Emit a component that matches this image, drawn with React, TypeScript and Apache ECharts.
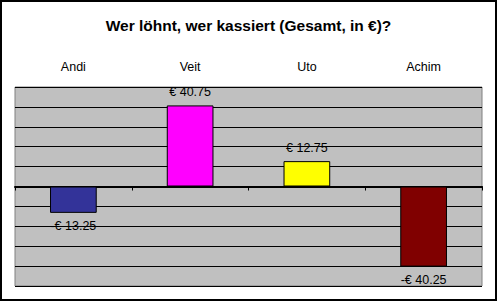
import React, { useEffect, useRef } from "react";
import * as echarts from "echarts";

const titleText = "Wer löhnt, wer kassiert (Gesamt, in €)?";
const categories = ["Andi", "Veit", "Uto", "Achim"];
const values = [-13.25, 40.75, 12.75, -40.25];
const barColors = ["#333399", "#FF00FF", "#FFFF00", "#800000"];

const fmt = (v: number) => (v < 0 ? "-€ " + Math.abs(v).toFixed(2) : "€ " + v.toFixed(2));

export default function App() {
  const ref = useRef<HTMLDivElement>(null);
  useEffect(() => {
    document.body.style.margin = "0";
    const chart = echarts.init(ref.current!, null, { renderer: "svg" });
    const font = "Arial, 'Liberation Sans', sans-serif";
    chart.setOption({
      animation: false,
      backgroundColor: "#ffffff",
      textStyle: { fontFamily: font },
      title: {
        text: titleText,
        left: "center",
        top: 12,
        textStyle: { fontSize: 15.5, fontWeight: "bold", color: "#000", fontFamily: font },
      },
      grid: {
        left: 15,
        top: 87,
        width: 467,
        height: 199,
        show: true,
        backgroundColor: "#c0c0c0",
        borderColor: "#808080",
        borderWidth: 1,
      },
      xAxis: [
        {
          type: "category",
          data: categories,
          position: "bottom",
          axisLine: { onZero: true, lineStyle: { color: "#000", width: 2 } },
          axisTick: { show: true, length: 4, lineStyle: { color: "#000", width: 1 } },
          axisLabel: { show: false },
        },
        {
          type: "category",
          data: categories,
          position: "top",
          axisLine: { show: false },
          axisTick: { show: false },
          axisLabel: { show: true, margin: 14, fontSize: 12.5, color: "#000", fontFamily: font },
        },
      ],
      yAxis: {
        type: "value",
        min: -50,
        max: 50,
        interval: 10,
        axisLine: { show: false },
        axisTick: { show: false },
        axisLabel: { show: false },
        splitLine: { show: true, lineStyle: { color: "#000", width: 1 } },
      },
      series: [
        {
          type: "bar",
          xAxisIndex: 0,
          barCategoryGap: "60%",
          data: values.map((v, i) => ({
            value: v,
            itemStyle: { color: barColors[i], borderColor: "#000", borderWidth: 1 },
            label: {
              show: true,
              position: v < 0 ? "bottom" : "top",
              distance: 7,
              formatter: () => fmt(v),
              fontSize: 12.5,
              color: "#000",
              fontFamily: font,
            },
          })),
        },
      ],
      graphic: [
        {
          type: "rect",
          shape: { x: 1, y: 1, width: 495, height: 299 },
          style: { fill: "none", stroke: "#000", lineWidth: 2 },
          silent: true,
          z: 100,
        },
      ],
    });
    return () => chart.dispose();
  }, []);
  return <div ref={ref} style={{ width: 497, height: 301, position: "absolute", left: 0, top: 0 }} />;
}
